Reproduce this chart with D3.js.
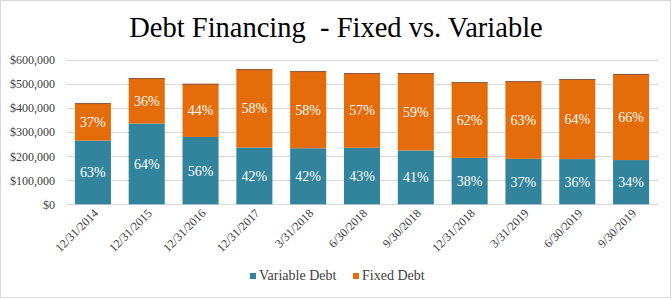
<!DOCTYPE html>
<html>
<head>
    <meta charset="utf-8">
    <title>Debt Financing</title>
    <script src="https://d3js.org/d3.v7.min.js"></script>
    <style>
        body {
            margin: 0;
            padding: 0;
            background: white;
        }

        .grid line {
            stroke: #d9d9d9;
        }
    </style>
</head>
<body>
    <div id="chart"></div>
    <script>
        // values, in thousands of dollars
        var dates = ["12/31/2014", "12/31/2015", "12/31/2016", "12/31/2017", "3/31/2018", "6/30/2018",
            "9/30/2018", "12/31/2018", "3/31/2019", "6/30/2019", "9/30/2019"];
        var variableDebt = [265, 336, 280, 236, 233, 235, 224, 193, 189, 188, 184];
        var fixedDebt = [156, 189, 221, 326, 321, 311, 322, 315, 323, 333, 358];
        var yTicks = [0, 100, 200, 300, 400, 500, 600];
        var seriesNames = ["Variable Debt", "Fixed Debt"];

        var width = 672,
            height = 300,
            margin = { top: 60, right: 14, bottom: 96, left: 66 };

        var colors = ["#31849b", "#e46c0a"];
        var serif = "'Liberation Serif'";

        var svg = d3.select("#chart")
            .append("svg")
            .attr("width", width)
            .attr("height", height);

        // outer chart border
        svg.append("rect")
            .attr("x", 0.5)
            .attr("y", 0.5)
            .attr("width", 670)
            .attr("height", 297)
            .attr("fill", "none")
            .attr("stroke", "#d9d9d9");

        svg.append("text")
            .attr("x", 336)
            .attr("y", 37)
            .attr("text-anchor", "middle")
            .style("font-family", serif)
            .style("font-size", "28.5px")
            .style("white-space", "pre")
            .style("fill", "#000")
            .text("Debt Financing  - Fixed vs. Variable");

        var x = d3.scaleBand()
            .domain(dates)
            .range([margin.left, width - margin.right])
            .paddingInner(0.33)
            .paddingOuter(0.165);

        var y = d3.scaleLinear()
            .domain([0, 600])
            .range([height - margin.bottom + 0.3, margin.top]);

        // gridlines
        svg.append("g")
            .attr("class", "grid")
            .selectAll("line")
            .data(yTicks)
            .enter()
            .append("line")
            .attr("x1", margin.left)
            .attr("x2", width - margin.right)
            .attr("y1", function (d) { return Math.round(y(d)) + 0.5; })
            .attr("y2", function (d) { return Math.round(y(d)) + 0.5; });

        var rows = dates.map(function (d, i) {
            return { date: d, variable: variableDebt[i], fixed: fixedDebt[i] };
        });

        var stack = d3.stack().keys(["variable", "fixed"]);
        var layers = stack(rows);

        var layer = svg.selectAll(".layer")
            .data(layers)
            .enter()
            .append("g")
            .attr("class", "layer")
            .attr("fill", function (d, i) { return colors[i]; });

        layer.selectAll("rect")
            .data(function (d) { return d; })
            .enter()
            .append("rect")
            .attr("x", function (d) { return x(d.data.date); })
            .attr("y", function (d) { return y(d[1]); })
            .attr("width", x.bandwidth())
            .attr("height", function (d) { return y(d[0]) - y(d[1]); });

        // thin darker edge on top of each bar
        svg.append("g")
            .selectAll("line")
            .data(rows)
            .enter()
            .append("line")
            .attr("x1", function (d) { return x(d.date); })
            .attr("x2", function (d) { return x(d.date) + x.bandwidth(); })
            .attr("y1", function (d) { return y(d.variable + d.fixed) + 0.5; })
            .attr("y2", function (d) { return y(d.variable + d.fixed) + 0.5; })
            .attr("stroke", "#8e5a45")
            .attr("stroke-width", 1);

        // percentage labels
        layer.selectAll("text")
            .data(function (d) { return d; })
            .enter()
            .append("text")
            .attr("x", function (d) { return x(d.data.date) + x.bandwidth() / 2; })
            .attr("y", function (d) { return (y(d[0]) + y(d[1])) / 2 + 5; })
            .attr("text-anchor", "middle")
            .style("font-family", serif)
            .style("fill", "white")
            .style("font-size", "14px")
            .text(function (d) {
                var total = d.data.variable + d.data.fixed;
                return Math.round((d[1] - d[0]) / total * 100) + "%";
            });

        // y axis
        var yAxis = d3.axisLeft(y)
            .tickValues(yTicks)
            .tickSize(0)
            .tickPadding(11)
            .tickFormat(function (d) { return "$" + d3.format(",")(d * 1000); });

        svg.append("g")
            .attr("transform", "translate(" + margin.left + ",0)")
            .call(yAxis)
            .attr("font-family", null)
            .call(function (g) { g.select(".domain").remove(); })
            .selectAll("text")
            .style("font-family", serif)
            .style("font-size", "12px")
            .style("fill", "#404040");

        // x axis
        var xAxis = d3.axisBottom(x).tickSize(0).tickPadding(0);

        svg.append("g")
            .attr("transform", "translate(0," + (height - margin.bottom) + ")")
            .call(xAxis)
            .attr("font-family", null)
            .call(function (g) { g.select(".domain").remove(); })
            .selectAll("text")
            .style("font-family", serif)
            .style("font-size", "12px")
            .style("fill", "#404040")
            .attr("text-anchor", "end")
            .attr("dy", null)
            .attr("transform", "translate(6,10) rotate(-45)");

        // legend
        var legend = svg.append("g")
            .attr("transform", "translate(250,273)");

        var items = legend.selectAll("g")
            .data(seriesNames)
            .enter()
            .append("g")
            .attr("transform", function (d, i) { return "translate(" + (i * 103) + ",0)"; });

        items.append("rect")
            .attr("width", 6)
            .attr("height", 6)
            .attr("fill", function (d, i) { return colors[i]; });

        items.append("text")
            .attr("x", 9)
            .attr("y", 7)
            .style("font-family", serif)
            .style("font-size", "14px")
            .style("fill", "#404040")
            .text(function (d) { return d; });
    </script>
</body>
</html>
